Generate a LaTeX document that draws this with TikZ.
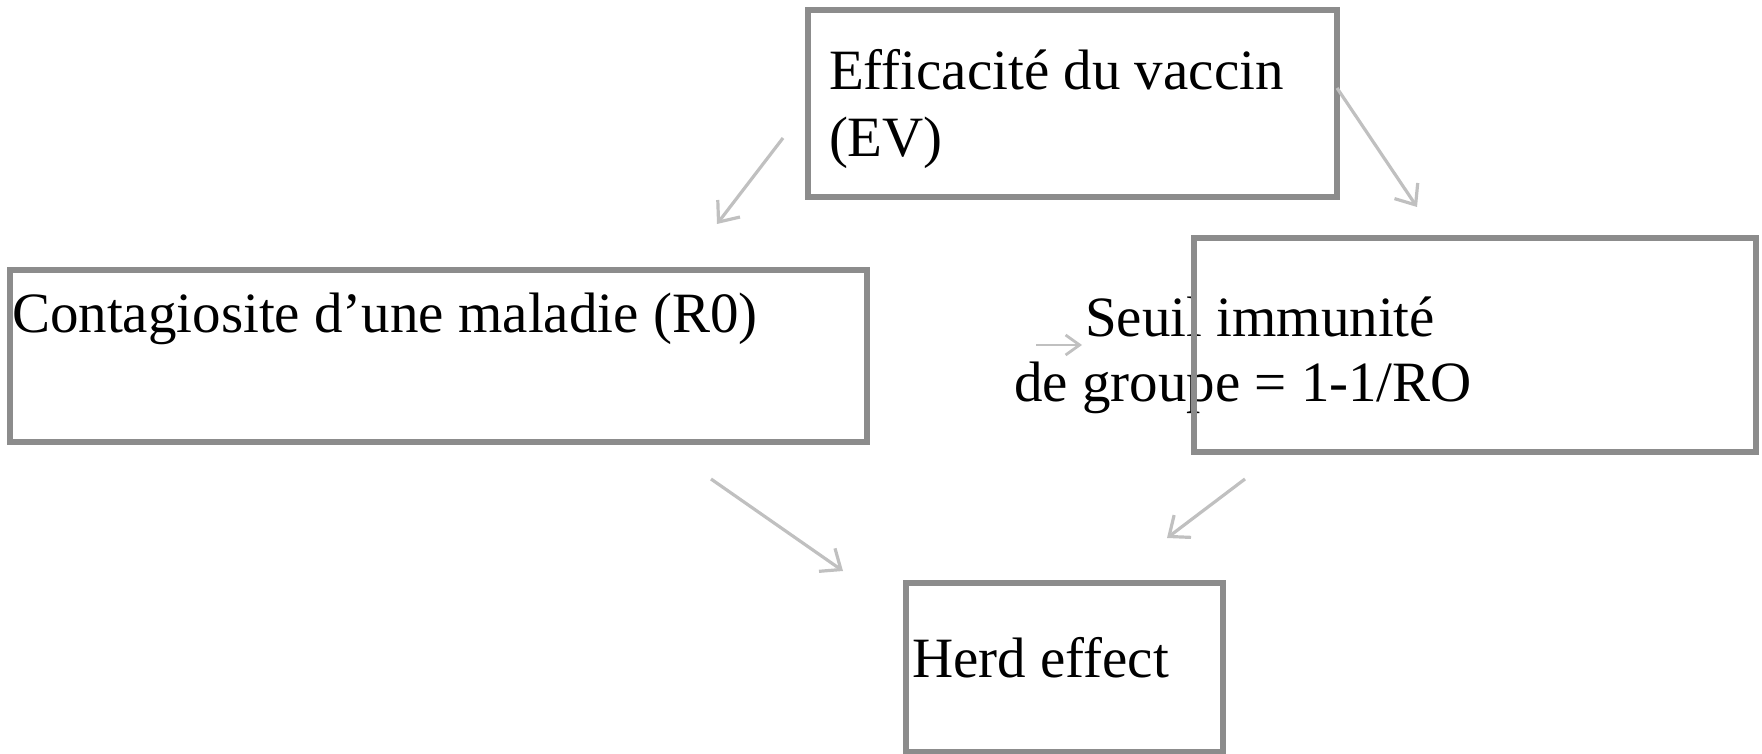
\documentclass[tikz,border=0pt]{standalone}
\usepackage{fontspec}
\setmainfont{Liberation Serif}
\usetikzlibrary{arrows.meta}
\definecolor{boxgray}{RGB}{140,140,140}
\definecolor{arrgray}{RGB}{192,192,192}
\tikzset{
  boxnode/.style={draw=boxgray, line width=2.6pt, rectangle, inner sep=0pt, outer sep=0pt},
  label28/.style={inner sep=0pt, outer sep=0pt, font=\fontsize{28.5}{33.5}\selectfont},
  conn/.style={draw=arrgray, line width=1.6pt, -{Straight Barb[length=8.5pt,width=14pt]}},
  smallconn/.style={draw=arrgray, line width=1.4pt, -{Straight Barb[length=7pt,width=10pt]}}
}
\begin{document}
\begin{tikzpicture}[x=0.5pt,y=-0.5pt]
\useasboundingbox (0,0) rectangle (1762,754);
% texts
\node[label28, anchor=base west, align=left] (evtext) at (829,157) {Efficacit\'e du vaccin\\(EV)};
\node[label28, anchor=base west] (context) at (12,333) {Contagiosite d’une maladie (R0)};
\node[label28, anchor=base, align=center] (seuiltext) at (1243,401) {\hspace*{17pt}Seuil immunit\'e\\[-1pt]de groupe = 1-1/RO};
\node[label28, anchor=base west] (herdtext) at (912,677) {Herd effect};
% boxes
\node[boxnode, minimum width=264.5pt, minimum height=93.5pt] (ev) at (1072.5,103.5) {};
\node[boxnode, minimum width=428.5pt, minimum height=86pt] (cont) at (438.5,356) {};
\node[boxnode, minimum width=281pt, minimum height=107pt] (seuil) at (1475,345) {};
\node[boxnode, minimum width=158.5pt, minimum height=84.5pt] (herd) at (1064.5,667.5) {};
% arrow ends
\coordinate (a1s) at (783,138);
\coordinate (a1e) at (717,224);
\coordinate (a2s) at (1337,88);
\coordinate (a2e) at (1417,207);
\coordinate (a3s) at (1036,345);
\coordinate (a3e) at (1082,345);
\coordinate (a4s) at (711,479);
\coordinate (a4e) at (843,571);
\coordinate (a5s) at (1245,479);
\coordinate (a5e) at (1167,538);
\draw[conn] (a1s) -- (a1e);
\draw[conn] (a2s) -- (a2e);
\draw[smallconn] (a3s) -- (a3e);
\draw[conn] (a4s) -- (a4e);
\draw[conn] (a5s) -- (a5e);
\end{tikzpicture}
\end{document}
